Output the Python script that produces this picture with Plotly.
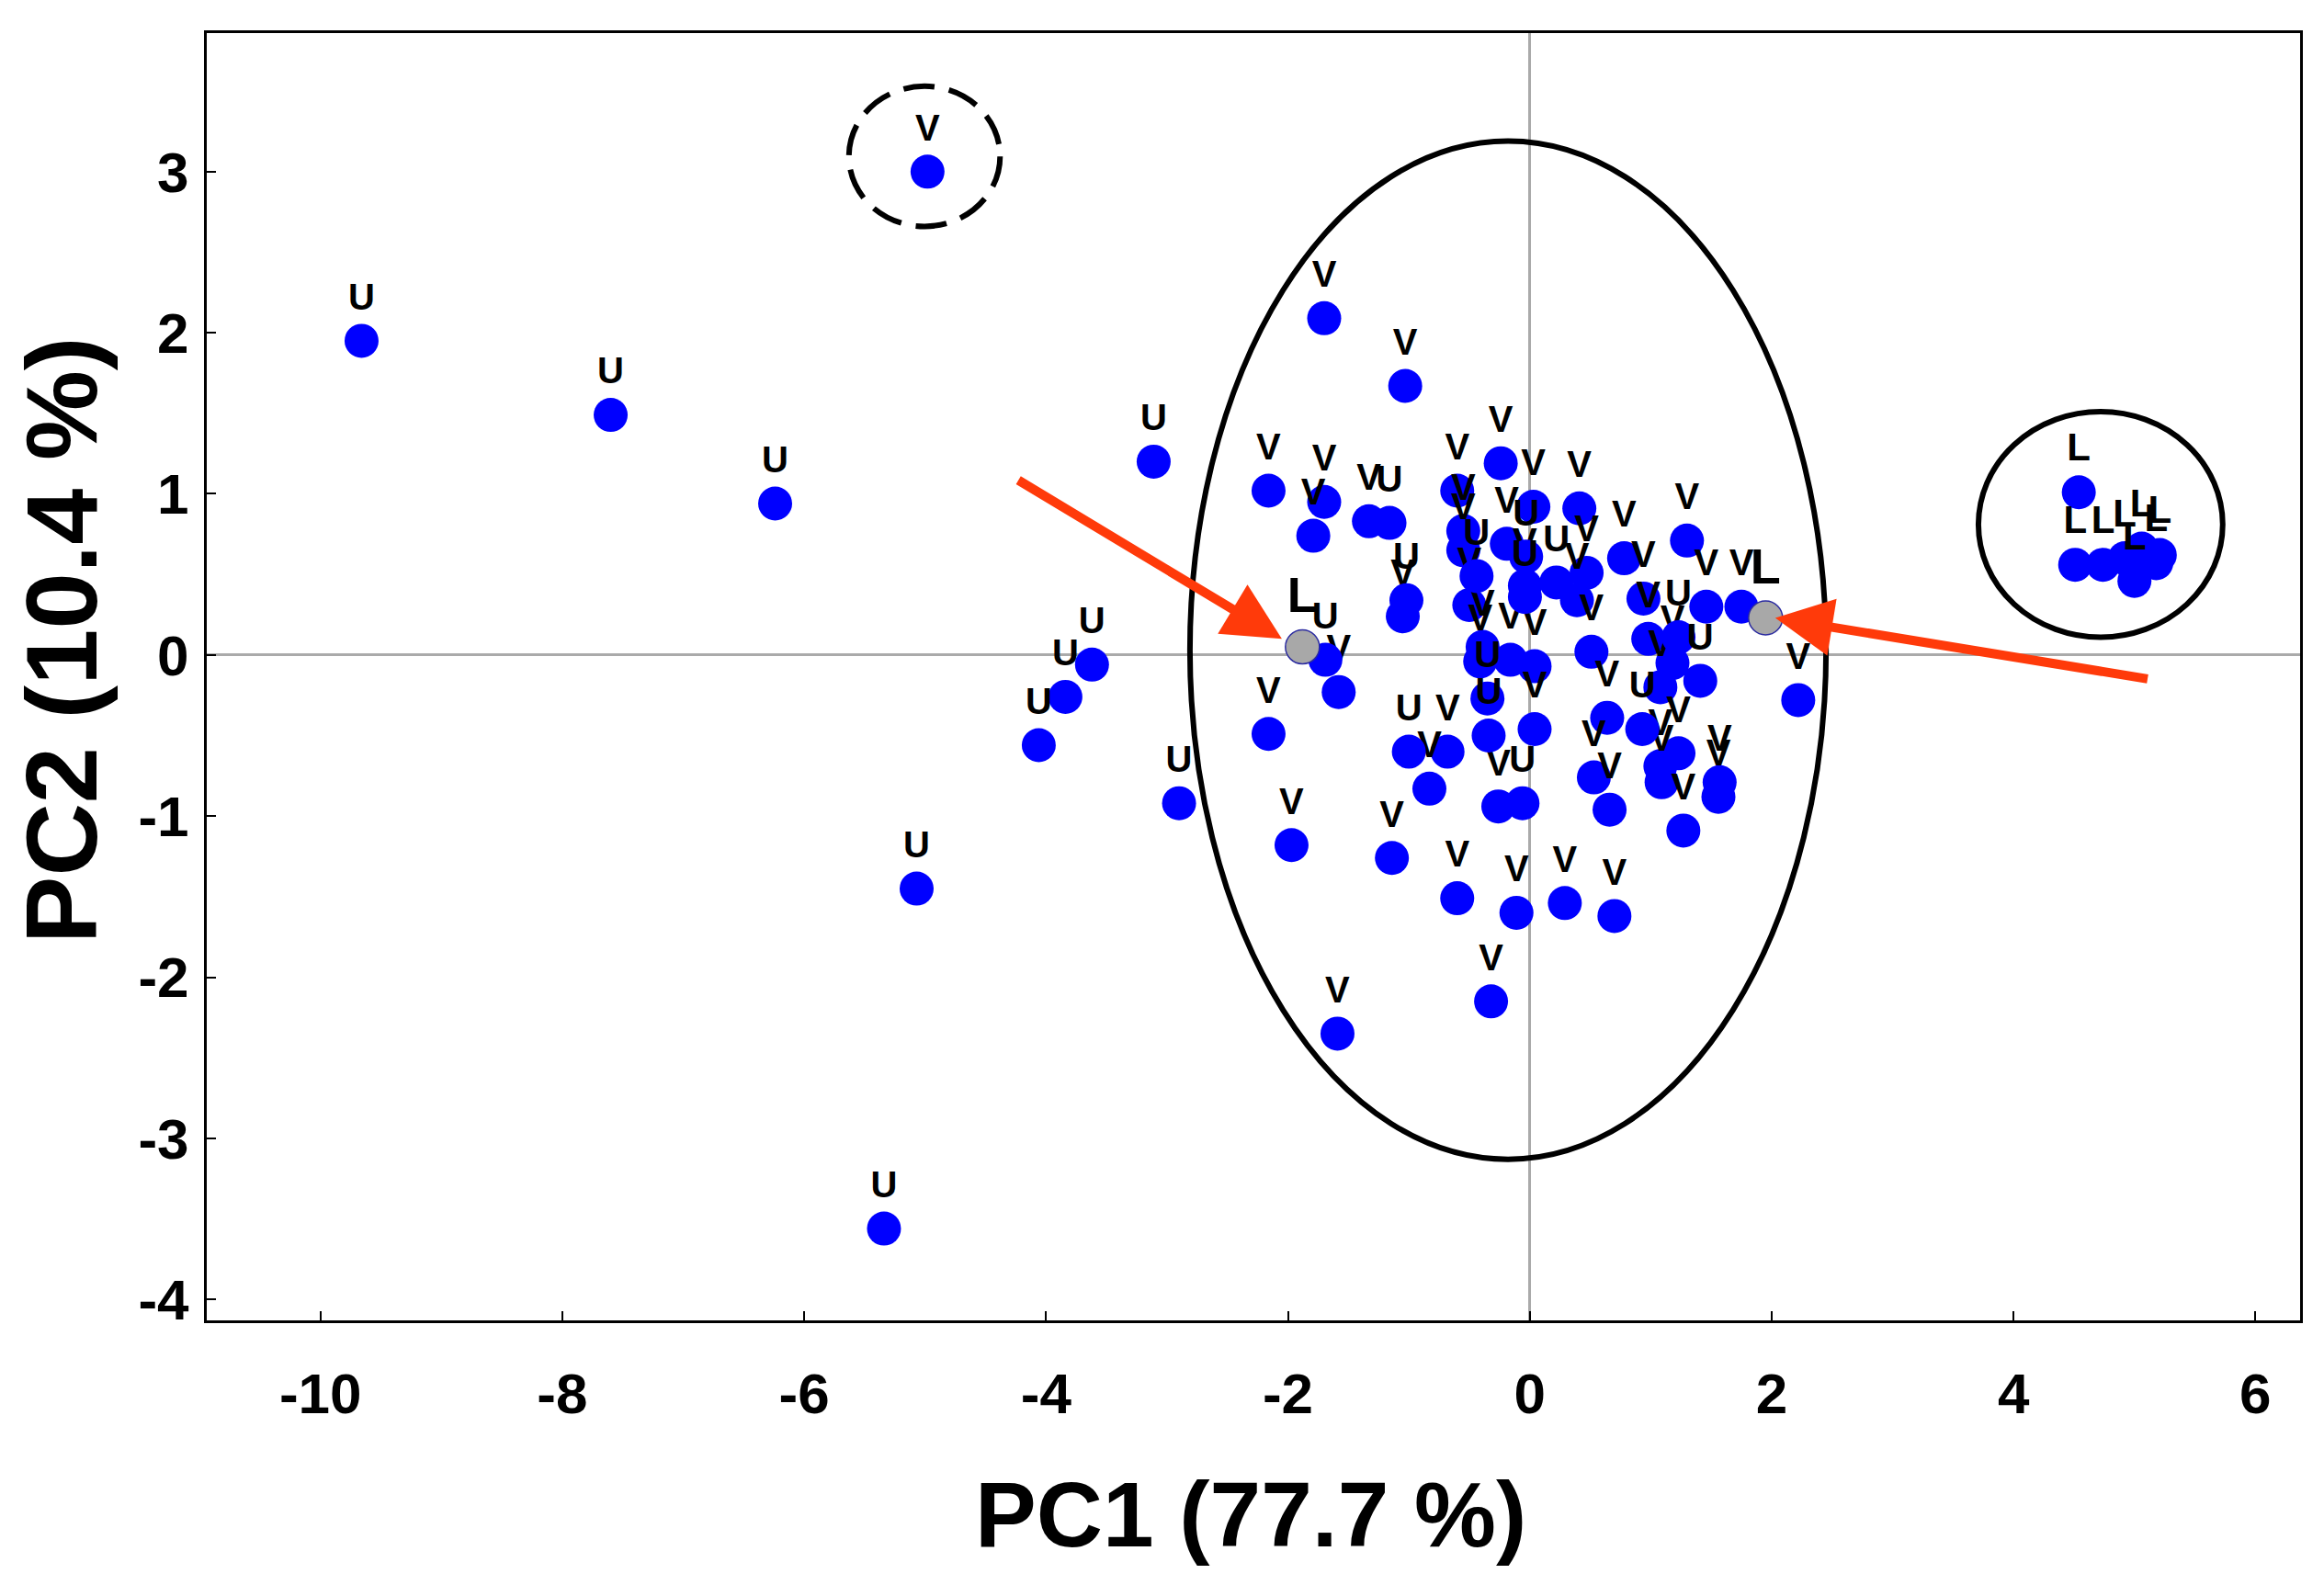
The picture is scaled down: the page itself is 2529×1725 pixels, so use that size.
import plotly.graph_objects as go

# PCA scores, grouped by label
u_pc1 = [-9.66, -7.60, -6.24, -3.11, -3.62, -3.84, -4.06, -2.90, -5.07, -5.34,
         -1.16, -1.69, -1.02, -1.00, -0.03, -0.44, -0.04, 0.22, 1.23, 1.41,
         -0.35, -0.34, 0.93, -0.06]
u_pc2 = [1.95, 1.49, 0.94, 1.20, -0.06, -0.26, -0.56, -0.92, -1.45, -3.56,
         0.82, -0.03, 0.34, -0.60, 0.61, 0.49, 0.36, 0.45, 0.11, -0.16,
         -0.27, -0.50, -0.46, -0.92]

v_pc1 = [-4.98, -1.70, -1.03, -2.16, -1.70, -1.79, -1.33, -0.24, -0.60, -1.58,
         -2.16, -1.05, -0.68, -0.83, -1.97, -1.14, -0.60, -1.59, -0.32, -0.55,
         -0.55, -0.19, 0.03, 0.41, -0.04, 0.47, 0.39, -0.50, -0.39, -0.41,
         -0.16, 0.04, 0.51, 0.78, 1.30, 0.94, 1.46, 1.75, 0.98, 1.08,
         2.22, 0.04, 0.64, 1.23, 1.09, 1.08, 0.53, 0.66, 1.57, 1.56,
         1.27, -0.26, -0.11, 0.29, 0.70, 1.18]
v_pc2 = [3.00, 2.09, 1.67, 1.02, 0.95, 0.74, 0.83, 1.19, 1.02, -0.23,
         -0.49, 0.24, -0.60, -0.83, -1.18, -1.26, -1.51, -2.35, -2.15, 0.77,
         0.65, 0.69, 0.92, 0.91, 0.43, 0.51, 0.34, 0.31, 0.05, -0.04,
         -0.03, -0.07, 0.02, 0.60, 0.71, 0.35, 0.30, 0.30, 0.10, -0.20,
         -0.28, -0.46, -0.39, -0.61, -0.79, -0.69, -0.76, -0.96, -0.79, -0.88,
         -1.09, -0.94, -1.60, -1.54, -1.62, -0.05]

l_pc1 = [4.54, 4.51, 4.74, 4.92, 5.06, 5.00, 5.18, 5.21]
l_pc2 = [1.01, 0.56, 0.56, 0.60, 0.66, 0.46, 0.57, 0.62]

# the two L samples highlighted in grey (arrows point at them)
lg_pc1 = [-1.88, 1.95]
lg_pc2 = [0.05, 0.23]

x_ticks = [-10, -8, -6, -4, -2, 0, 2, 4, 6]
y_ticks = [-4, -3, -2, -1, 0, 1, 2, 3]

FONT = "Arial, Liberation Sans, sans-serif"
BLUE = "#0000FF"
ARROW = "#FF3A0A"

fig = go.Figure()


def group(xs, ys, lab, size=40):
    fig.add_trace(go.Scatter(
        x=xs, y=ys, mode="markers+text", text=[lab] * len(xs),
        textposition="top center",
        textfont=dict(family=FONT, size=size, color="black", weight="bold"),
        marker=dict(size=37, color=BLUE, line=dict(width=0)),
        showlegend=False))


group(v_pc1, v_pc2, "V")
group(u_pc1, u_pc2, "U")
group(l_pc1, l_pc2, "L", 42)

fig.add_trace(go.Scatter(
    x=lg_pc1, y=lg_pc2, mode="markers+text", text=["L"] * len(lg_pc1),
    textposition="top center",
    textfont=dict(family=FONT, size=54, color="black", weight="bold"),
    marker=dict(size=37, color="#A8A8A8", line=dict(width=1.5, color="#2A2AA0")),
    showlegend=False))

# grouping outlines (ellipses in data units)
fig.add_shape(type="circle", xref="x", yref="y", x0=-2.81, x1=2.45, y0=-3.13, y1=3.19,
              line=dict(color="black", width=6))
fig.add_shape(type="circle", xref="x", yref="y", x0=3.71, x1=5.73, y0=0.11, y1=1.51,
              line=dict(color="black", width=6))
fig.add_shape(type="circle", xref="x", yref="y", x0=-5.63, x1=-4.38, y0=2.66, y1=3.53,
              line=dict(color="black", width=6, dash="34px,16px"))

# arrows pointing at the grey L samples
fig.add_annotation(x=-2.05, y=0.10, ax=-4.24, ay=1.09, xref="x", yref="y",
                   axref="x", ayref="y", text="", showarrow=True, arrowhead=2,
                   arrowsize=1.25, arrowwidth=10, arrowcolor=ARROW)
fig.add_annotation(x=2.03, y=0.23, ax=5.12, ay=-0.15, xref="x", yref="y",
                   axref="x", ayref="y", text="", showarrow=True, arrowhead=2,
                   arrowsize=1.25, arrowwidth=10, arrowcolor=ARROW)

# axis titles
fig.add_annotation(x=0.4985, y=-0.1506, xref="paper", yref="paper", showarrow=False,
                   text="PC1 (77.7 %)", xanchor="center", yanchor="middle",
                   font=dict(family=FONT, size=100, color="black", weight="bold"))
fig.add_annotation(x=-0.0695, y=0.528, xref="paper", yref="paper", showarrow=False,
                   text="PC2 (10.4 %)", textangle=-90, xanchor="center", yanchor="middle",
                   font=dict(family=FONT, size=110, color="black", weight="bold"))

axis_common = dict(showgrid=False, zeroline=True, zerolinecolor="#AAAAAA", zerolinewidth=3,
                   showline=True, mirror=True, linecolor="black", linewidth=3,
                   ticks="inside", ticklen=10, tickwidth=2, tickcolor="black",
                   tickfont=dict(family=FONT, size=62, color="black", weight="bold"))

fig.update_xaxes(range=[-10.94, 6.37], tickvals=x_ticks, ticktext=[str(t) for t in x_ticks],
                 ticklabelstandoff=24, **axis_common)
fig.update_yaxes(range=[-4.13, 3.86], tickvals=y_ticks, ticktext=[str(t) for t in y_ticks],
                 ticklabelstandoff=4, **axis_common)

# page body has an 8px margin, so the figure is shrunk by 16px and margins shifted by 8px
fig.update_layout(width=2513, height=1709, plot_bgcolor="white", paper_bgcolor="white",
                  margin=dict(l=217, r=18, t=28, b=280), showlegend=False)

fig.write_html("out.html")
